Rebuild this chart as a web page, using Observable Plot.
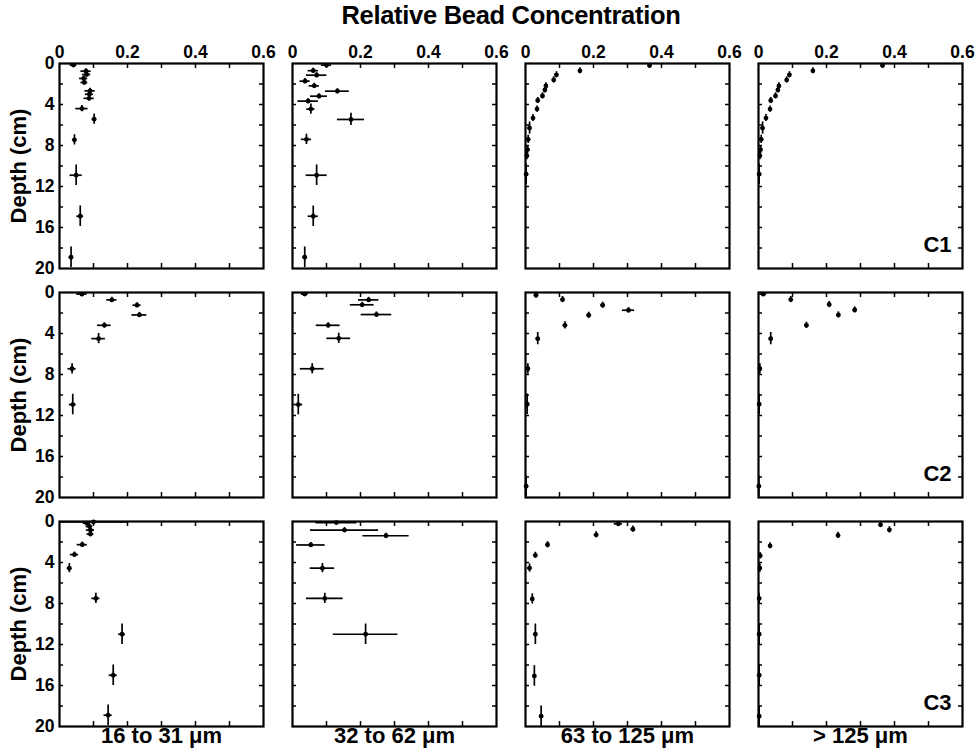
<!DOCTYPE html>
<html><head><meta charset="utf-8">
<script src="https://cdn.jsdelivr.net/npm/d3@7"></script>
<script src="https://cdn.jsdelivr.net/npm/@observablehq/plot@0.6"></script>
<style>
body{margin:0;background:#fff;}
#wrap{position:relative;width:980px;height:752px;font-family:"Liberation Sans",Arial,sans-serif;}
#title{position:absolute;top:1px;left:0;width:1022px;text-align:center;font-weight:bold;font-size:25.5px;letter-spacing:-0.3px;z-index:2;}
#wrap svg{position:absolute;left:0;top:0;}
</style></head><body>
<div id="wrap"><div id="title">Relative Bead Concentration</div></div>
<script>
// Facet categories and tick labels
const sizes = ["16 to 31 μm", "32 to 62 μm", "63 to 125 μm", "> 125 μm"];
const cores = ["C1", "C2", "C3"];
const xTickLabels = [0, 0.2, 0.4, 0.6];
const yTickLabels = [0, 4, 8, 12, 16, 20];
const xMinorTicks = [0.1, 0.2, 0.3, 0.4, 0.5];
const yMinorTicks = [2, 4, 6, 8, 10, 12, 14, 16, 18];

// Each row: [depth (cm), relative concentration, concentration error, depth error]
const C1_16to31 = [
  [0.15, 0.041, 0.010, 0.2], [0.75, 0.078, 0.015, 0.25], [1.07, 0.080, 0.012, 0.25],
  [1.46, 0.071, 0.012, 0.25], [1.85, 0.073, 0.010, 0.25], [2.67, 0.090, 0.015, 0.25],
  [3.0, 0.088, 0.012, 0.25], [3.4, 0.087, 0.015, 0.25], [4.4, 0.066, 0.018, 0.3],
  [5.43, 0.102, 0.006, 0.5], [7.45, 0.044, 0.006, 0.5], [10.9, 0.049, 0.018, 1.0],
  [14.9, 0.061, 0.010, 1.0], [18.9, 0.034, 0.006, 1.0]
];
const C1_32to62 = [
  [0.16, 0.100, 0.015, 0.2], [0.7, 0.061, 0.015, 0.25], [1.14, 0.071, 0.030, 0.25],
  [1.72, 0.037, 0.015, 0.25], [2.18, 0.064, 0.015, 0.25], [2.7, 0.132, 0.035, 0.25],
  [3.19, 0.078, 0.025, 0.25], [3.67, 0.046, 0.030, 0.25], [4.45, 0.054, 0.012, 0.5],
  [5.46, 0.172, 0.040, 0.6], [7.4, 0.041, 0.015, 0.5], [10.9, 0.071, 0.031, 1.0],
  [14.9, 0.061, 0.015, 1.0], [18.9, 0.036, 0.006, 1.0]
];
const C1_63to125 = [
  [0.2, 0.365, 0.005, 0.25], [0.71, 0.160, 0.004, 0.3], [1.1, 0.091, 0.004, 0.3],
  [1.6, 0.083, 0.004, 0.3], [2.19, 0.060, 0.004, 0.3], [2.58, 0.057, 0.004, 0.3],
  [3.16, 0.050, 0.004, 0.3], [3.61, 0.036, 0.004, 0.3], [4.45, 0.034, 0.004, 0.3],
  [5.32, 0.022, 0.004, 0.35], [6.3, 0.012, 0.005, 0.6], [7.4, 0.008, 0.004, 0.4],
  [8.4, 0.006, 0.003, 0.4], [9.0, 0.004, 0.003, 0.4], [10.8, 0.002, 0.005, 1.0]
];
const C1_over125 = [
  [0.2, 0.365, 0.005, 0.25], [0.71, 0.160, 0.004, 0.3], [1.1, 0.091, 0.004, 0.3],
  [1.6, 0.083, 0.004, 0.3], [2.19, 0.060, 0.004, 0.3], [2.58, 0.057, 0.004, 0.3],
  [3.16, 0.050, 0.004, 0.3], [3.61, 0.036, 0.004, 0.3], [4.45, 0.034, 0.004, 0.3],
  [5.32, 0.022, 0.004, 0.35], [6.3, 0.012, 0.005, 0.6], [7.4, 0.008, 0.004, 0.4],
  [8.4, 0.006, 0.003, 0.4], [9.0, 0.004, 0.003, 0.4], [10.8, 0.002, 0.005, 1.0]
];
const C2_16to31 = [
  [0.16, 0.066, 0.015, 0.2], [0.72, 0.154, 0.015, 0.25], [1.24, 0.228, 0.012, 0.25],
  [2.19, 0.235, 0.022, 0.25], [3.2, 0.132, 0.020, 0.25], [4.5, 0.115, 0.020, 0.5],
  [7.44, 0.037, 0.012, 0.5], [10.93, 0.039, 0.010, 1.0]
];
const C2_32to62 = [
  [0.15, 0.036, 0.010, 0.2], [0.72, 0.224, 0.030, 0.25], [1.2, 0.205, 0.035, 0.25],
  [2.15, 0.247, 0.045, 0.25], [3.2, 0.105, 0.035, 0.25], [4.47, 0.136, 0.035, 0.5],
  [7.44, 0.058, 0.035, 0.5], [10.93, 0.017, 0.013, 1.0]
];
const C2_63to125 = [
  [0.26, 0.031, 0.005, 0.3], [0.69, 0.109, 0.005, 0.3], [1.24, 0.227, 0.006, 0.3],
  [1.73, 0.303, 0.018, 0.25], [2.22, 0.186, 0.006, 0.3], [3.2, 0.116, 0.005, 0.35],
  [4.5, 0.036, 0.005, 0.6], [7.44, 0.007, 0.004, 0.5], [10.9, 0.005, 0.003, 1.0],
  [18.9, 0.002, 0.002, 1.0]
];
const C2_over125 = [
  [0.16, 0.014, 0.010, 0.2], [0.69, 0.095, 0.005, 0.3], [1.17, 0.208, 0.005, 0.3],
  [1.7, 0.283, 0.005, 0.3], [2.19, 0.235, 0.005, 0.3], [3.2, 0.141, 0.005, 0.3],
  [4.5, 0.036, 0.005, 0.6], [7.44, 0.004, 0.003, 0.5], [10.9, 0.002, 0.002, 1.0],
  [18.9, 0.001, 0.002, 1.0]
];
const C3_16to31 = [
  [0.05, 0.100, 0.100, 0.1], [0.16, 0.080, 0.010, 0.2], [0.48, 0.088, 0.010, 0.25],
  [0.84, 0.091, 0.012, 0.25], [1.23, 0.091, 0.010, 0.25], [2.26, 0.067, 0.015, 0.25],
  [3.23, 0.044, 0.012, 0.25], [4.55, 0.029, 0.006, 0.45], [7.5, 0.107, 0.012, 0.5],
  [11.0, 0.184, 0.010, 1.0], [15.0, 0.158, 0.012, 1.0], [18.9, 0.143, 0.012, 1.0]
];
const C3_32to62 = [
  [0.1, 0.129, 0.060, 0.15], [0.84, 0.153, 0.100, 0.25], [1.39, 0.275, 0.068, 0.25],
  [2.29, 0.054, 0.042, 0.25], [4.55, 0.088, 0.036, 0.45], [7.5, 0.095, 0.054, 0.5],
  [11.0, 0.215, 0.095, 1.0]
];
const C3_63to125 = [
  [0.23, 0.273, 0.012, 0.2], [0.75, 0.316, 0.006, 0.3], [1.3, 0.208, 0.006, 0.3],
  [2.27, 0.065, 0.006, 0.3], [3.3, 0.029, 0.005, 0.3], [4.54, 0.012, 0.006, 0.4],
  [7.55, 0.020, 0.004, 0.5], [11.0, 0.029, 0.003, 1.0], [15.07, 0.026, 0.003, 1.0],
  [19.0, 0.046, 0.003, 1.0]
];
const C3_over125 = [
  [0.32, 0.359, 0.004, 0.25], [0.81, 0.385, 0.004, 0.3], [1.36, 0.234, 0.004, 0.3],
  [2.37, 0.034, 0.004, 0.3], [3.34, 0.005, 0.004, 0.3], [4.54, 0.004, 0.003, 0.4],
  [7.5, 0.002, 0.002, 0.5], [11.0, 0.002, 0.002, 1.0], [15.0, 0.002, 0.002, 1.0],
  [19.0, 0.002, 0.002, 1.0]
];

const panels = [
  ["C1", sizes[0], C1_16to31], ["C1", sizes[1], C1_32to62], ["C1", sizes[2], C1_63to125], ["C1", sizes[3], C1_over125],
  ["C2", sizes[0], C2_16to31], ["C2", sizes[1], C2_32to62], ["C2", sizes[2], C2_63to125], ["C2", sizes[3], C2_over125],
  ["C3", sizes[0], C3_16to31], ["C3", sizes[1], C3_32to62], ["C3", sizes[2], C3_63to125], ["C3", sizes[3], C3_over125]
];
const rows = [];
for (const [core, size, arr] of panels)
  for (const [depth, conc, ce, de] of arr) rows.push({core, size, depth, conc, ce, de});

const depthLabels = cores.map(core => ({core, size: sizes[0]}));
const coreLabels = cores.map(core => ({core, size: sizes[sizes.length - 1]}));

const BAND = 205; // approx facet size (px) for inward tick insets
const TICK = 5;

const chart = Plot.plot({
  width: 980,
  height: 752,
  marginLeft: 58, marginRight: 16, marginTop: 63, marginBottom: 26,
  style: {fontFamily: "'Liberation Sans', Arial, sans-serif", fontWeight: "bold", fontSize: "17px", background: "transparent", color: "black"},
  x: {domain: [0, 0.6], axis: null},
  y: {domain: [0, 20], reverse: true, axis: null},
  fx: {domain: sizes, paddingInner: 0.1227, paddingOuter: 0, axis: null},
  fy: {domain: cores, paddingInner: 0.105, paddingOuter: 0, axis: null},
  marks: [
    Plot.axisX({anchor: "top", ticks: xTickLabels, tickSize: 0, tickPadding: 6, fontSize: 17.5, fontWeight: "bold", label: null, tickFormat: d => String(d)}),
    Plot.axisY({anchor: "left", ticks: yTickLabels, tickSize: 0, tickPadding: 5, fontSize: 17.5, fontWeight: "bold", label: null, tickFormat: d => String(d)}),
    Plot.axisFx({anchor: "bottom", tickSize: 0, tickPadding: 1, fontSize: 22, fontWeight: "bold", label: null}),
    Plot.tickX(xMinorTicks, {x: d => d, insetBottom: BAND - TICK, strokeWidth: 1.5}),
    Plot.tickX(xMinorTicks, {x: d => d, insetTop: BAND - TICK, strokeWidth: 1.5}),
    Plot.tickY(yMinorTicks, {y: d => d, insetRight: BAND - TICK, strokeWidth: 1.5}),
    Plot.tickY(yMinorTicks, {y: d => d, insetLeft: BAND - TICK, strokeWidth: 1.5}),
    Plot.ruleY(rows, {fx: "size", fy: "core", y: "depth", x1: d => Math.max(0, d.conc - d.ce), x2: d => d.conc + d.ce, stroke: "black", strokeWidth: 1.7}),
    Plot.ruleX(rows, {fx: "size", fy: "core", x: "conc", y1: d => Math.max(0, d.depth - d.de), y2: d => Math.min(20, d.depth + d.de), stroke: "black", strokeWidth: 1.7}),
    Plot.dot(rows, {fx: "size", fy: "core", x: "conc", y: "depth", r: 2.4, fill: "black", stroke: null}),
    Plot.frame({stroke: "black", strokeWidth: 2.2}),
    Plot.text(depthLabels, {fx: "size", fy: "core", text: () => "Depth (cm)", frameAnchor: "left", textAnchor: "middle", lineAnchor: "middle", rotate: -90, dx: -41, fontSize: 22, fontWeight: "bold"}),
    Plot.text(coreLabels, {fx: "size", fy: "core", text: "core", frameAnchor: "bottom-right", textAnchor: "end", lineAnchor: "bottom", dx: -11, dy: -17, fontSize: 22, fontWeight: "bold"})
  ]
});
document.getElementById("wrap").appendChild(chart);
</script>
</body></html>
